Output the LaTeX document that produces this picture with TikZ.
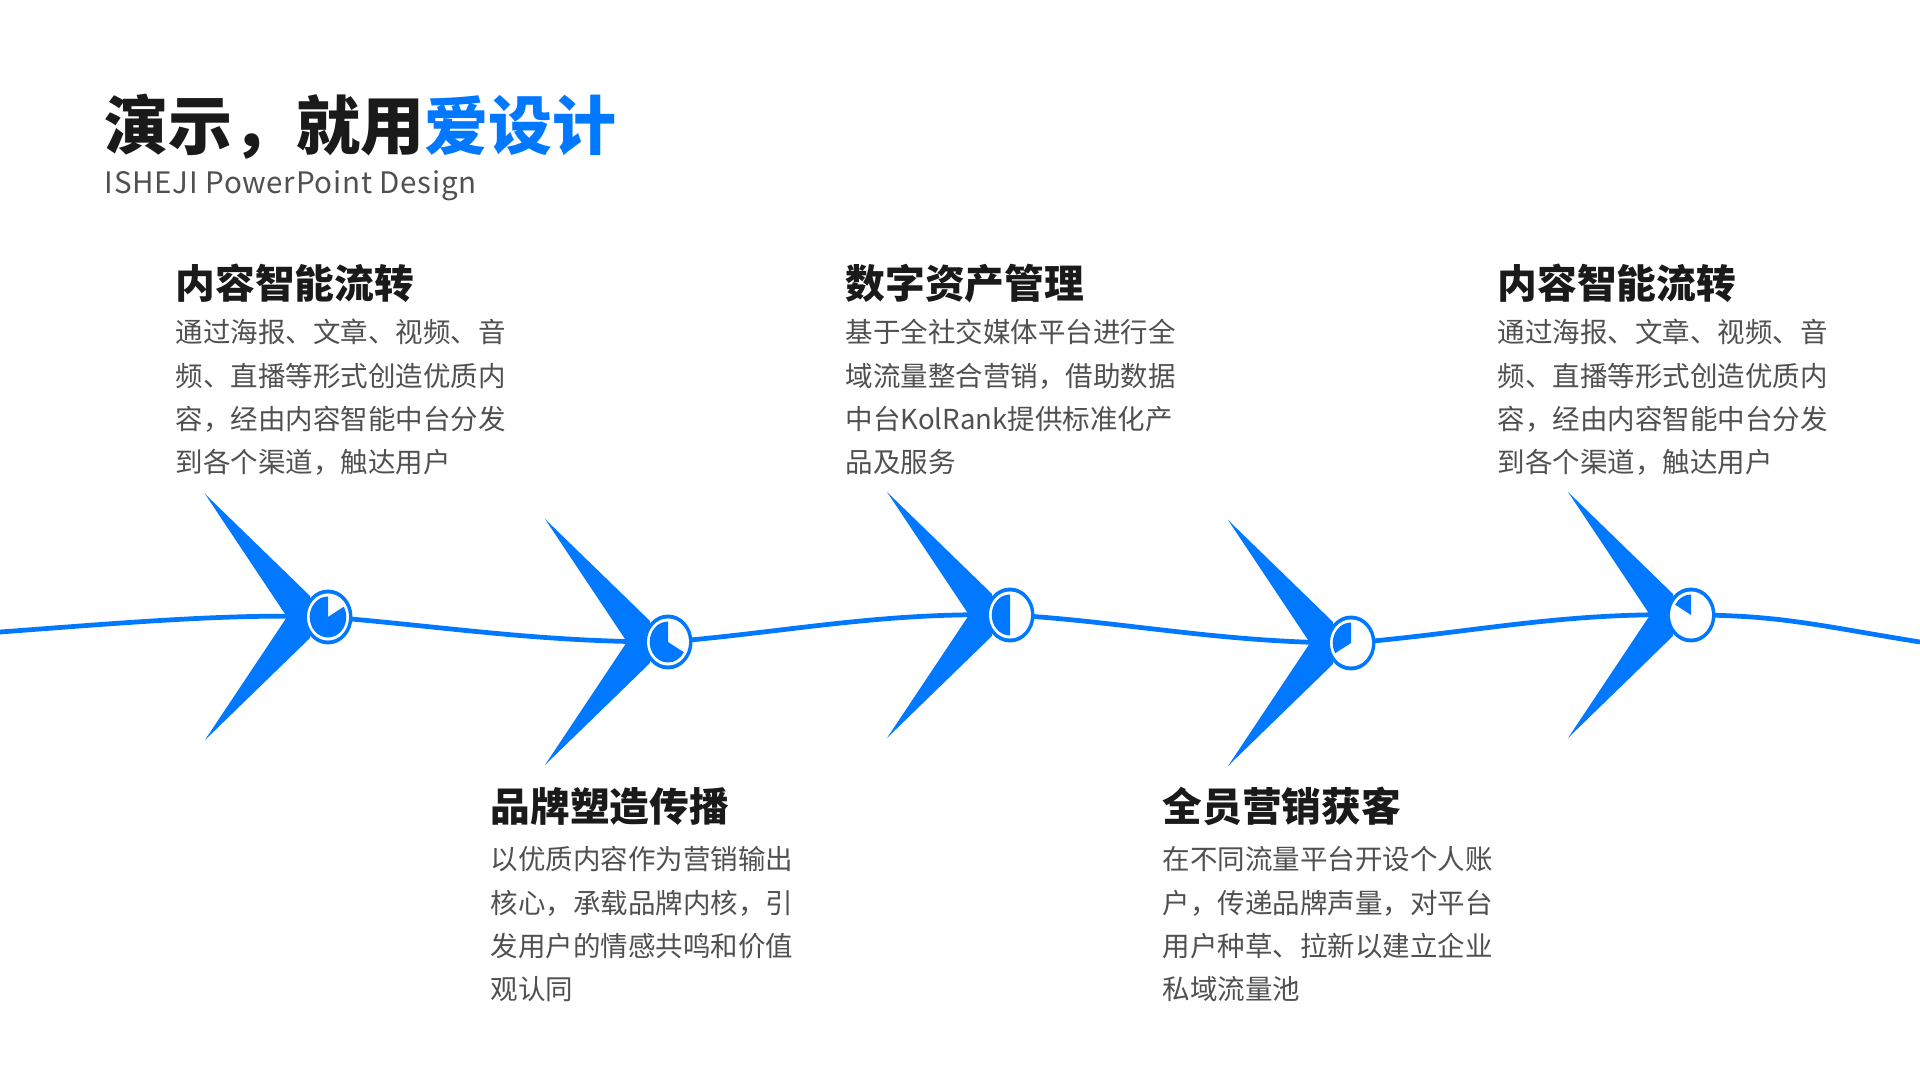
\documentclass[tikz,border=0pt]{standalone}
\usepackage{fontspec}
\setmainfont{Noto Sans CJK SC}
\definecolor{brand}{HTML}{0078FF}
\definecolor{ink}{HTML}{1A1A1A}
\definecolor{muted}{HTML}{505050}
\newcommand{\desc}[1]{\begin{tabular}[t]{@{}l@{}}#1\end{tabular}}

\begin{document}
\begin{tikzpicture}[
    x=0.01cm, y=-0.01cm,
    wave/.style={draw=brand, line width=1.35pt},
    title/.style={anchor=base west, inner sep=0pt, font=\fontsize{18.2pt}{20pt}\selectfont\bfseries, text=ink},
    subtitle/.style={anchor=base west, inner sep=0pt, font=\fontsize{8.4pt}{10pt}\selectfont\addfontfeatures{LetterSpace=2.5}, text=muted},
    head/.style={anchor=base west, inner sep=0pt, font=\fontsize{11.3pt}{13pt}\selectfont\bfseries, text=ink},
    body/.style={anchor=base west, inner sep=0pt, font=\fontsize{7.82pt}{12.3pt}\selectfont, text=muted},
    pics/jet/.style={code={
        \fill[brand] (-123,-123) -- (-18,-21) -- (-18,21) -- (-123,123) -- (-41,0) -- cycle;
        \begin{scope}[y=0.0112cm]
            \fill[brand] (0,0) circle[radius=24.5];
            \fill[white] (0,0) circle[radius=21];
            \fill[brand] (0,0) -- (90:18.3) arc[start angle=90, delta angle=#1, radius=18.3] -- cycle;
        \end{scope}
    }}
]
\fill[white] (0,0) rectangle (1920,1080);
\useasboundingbox (0,0) rectangle (1920,1080);

% Title
\node[title] (title) at (104,150) {演示，就用\textcolor{brand}{爱设计}};
\node[subtitle] (sub) at (104,194) {ISHEJI\ PowerPoint\ Design};

% Timeline stops
\coordinate (c1) at (328,617);
\coordinate (c2) at (668,642);
\coordinate (c3) at (1010,615);
\coordinate (c4) at (1351,643);
\coordinate (c5) at (1691,615);

% Wave through the stops
\draw[wave] (0,632) .. controls (110,624) and (230,613) .. (c1)
    .. controls +(120,10) and +(-130,0) .. (c2)
    .. controls +(120,-10) and +(-130,-3) .. (c3)
    .. controls +(110,6) and +(-130,0) .. (c4)
    .. controls +(120,-10) and +(-130,-3) .. (c5)
    .. controls +(90,0) and +(-100,-16) .. (1920,642);

% Jets with progress dials
\pic at (c1) {jet=300};
\pic at (c2) {jet=240};
\pic at (c3) {jet=180};
\pic at (c4) {jet=120};
\pic at (c5) {jet=60};

% Upper texts
\node[head] (h1) at (175,299) {内容智能流转};
\node[body] (b1) at (175,343) {\desc{通过海报、文章、视频、音\\频、直播等形式创造优质内\\容，经由内容智能中台分发\\到各个渠道，触达用户}};
\node[head] (h3) at (845,299) {数字资产管理};
\node[body] (b3) at (845,343) {\desc{基于全社交媒体平台进行全\\域流量整合营销，借助数据\\中台KolRank提供标准化产\\品及服务}};
\node[head] (h5) at (1497,299) {内容智能流转};
\node[body] (b5) at (1497,343) {\desc{通过海报、文章、视频、音\\频、直播等形式创造优质内\\容，经由内容智能中台分发\\到各个渠道，触达用户}};

% Lower texts
\node[head] (h2) at (490,822) {品牌塑造传播};
\node[body] (b2) at (490,870) {\desc{以优质内容作为营销输出\\核心，承载品牌内核，引\\发用户的情感共鸣和价值\\观认同}};
\node[head] (h4) at (1162,822) {全员营销获客};
\node[body] (b4) at (1162,870) {\desc{在不同流量平台开设个人账\\户，传递品牌声量，对平台\\用户种草、拉新以建立企业\\私域流量池}};

\end{tikzpicture}
\end{document}
